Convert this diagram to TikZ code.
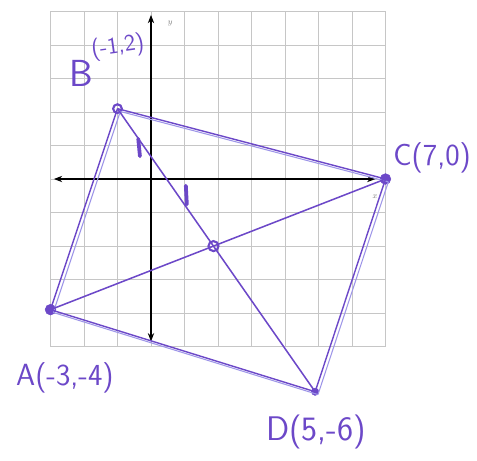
\documentclass[tikz,border=0pt]{standalone}
\usepackage{tikz}
\usetikzlibrary{arrows.meta,positioning}

\definecolor{pen}{RGB}{108,72,200}
\definecolor{pale}{RGB}{158,150,232}

\begin{document}
\begin{tikzpicture}[
  gridline/.style={draw=gray!45, line width=0.5pt},
  axis/.style={draw=black, line width=1.4pt,
               {Stealth[length=2.5mm]}-{Stealth[length=2.5mm]}},
  dot/.style={circle, draw=pen, fill=pen, inner sep=0pt,
              minimum size=3.2mm},
  hollow/.style={circle, draw=pen, line width=1.8pt, inner sep=0pt,
                 minimum size=3mm},
  side/.style={draw=pen, line width=1.2pt},
  ghost/.style={draw=pale, line width=0.9pt},
  diag/.style={draw=pen, line width=1.3pt},
  hand/.style={text=pen, font=\sffamily\fontsize{26}{26}\selectfont,
               inner sep=1pt},
  tick/.style={draw=pen, line width=3.2pt, line cap=round},
  axlbl/.style={text=gray, font=\scriptsize}
]
  \useasboundingbox (-4.507,-8.388) rectangle (9.731,5.343);

  % grid and axes
  \draw[gridline] (-3,-5) grid (7,5);
  \coordinate (xl) at (-2.9,0);
  \coordinate (xr) at (6.7,0);
  \coordinate (yb) at (0,-4.85);
  \coordinate (yt) at (0,4.9);
  \draw[axis] (xl) -- (xr);
  \draw[axis] (yb) -- (yt);
  \node[axlbl] (ylbl) at (0.57,4.63) {$y$};
  \node[axlbl] (xlbl) at (6.69,-0.54) {$x$};

  % vertices
  \node[dot]  (A) at (-3,-3.9) {};
  \node[hollow, minimum size=2.6mm] (B) at (-1,2.1) {};
  \node[dot]  (C) at (7,0) {};
  \node[dot, minimum size=2.2mm] (D) at (4.9,-6.35) {};

  % sides, each gone over twice
  \foreach \p/\q in {A/B,B/C,C/D,D/A}{
    \draw[ghost, transform canvas={shift={(2.4pt,-2.4pt)}}]
      (\p.center) -- (\q.center);
    \draw[side] (\p.center) -- (\q.center);
  }

  % diagonals
  \draw[diag] (A.center) -- (C.center);
  \draw[diag] (B.center) -- (D.center);
  \node[hollow] (M) at (intersection of A.center--C.center and B.center--D.center) {};

  % equal halves
  \draw[tick] (-0.38,1.2) -- (-0.33,0.68);
  \draw[tick] (1.04,-0.2) -- (1.07,-0.76);

  % labels
  \node[hand] (labA) at (-2.57,-5.94) {A(-3,-4)};
  \node[hand, font=\sffamily\fontsize{32}{32}\selectfont] (labB) at (-2.09,3.16) {B};
  \node[hand, font=\sffamily\fontsize{20}{20}\selectfont, rotate=8] (labBc) at (-0.99,3.94) {(-1,2)};
  \node[hand] (labC) at (8.39,0.63) {C(7,0)};
  \node[hand, font=\sffamily\fontsize{29}{29}\selectfont] (labD) at (4.93,-7.55) {D(5,-6)};
\end{tikzpicture}
\end{document}
